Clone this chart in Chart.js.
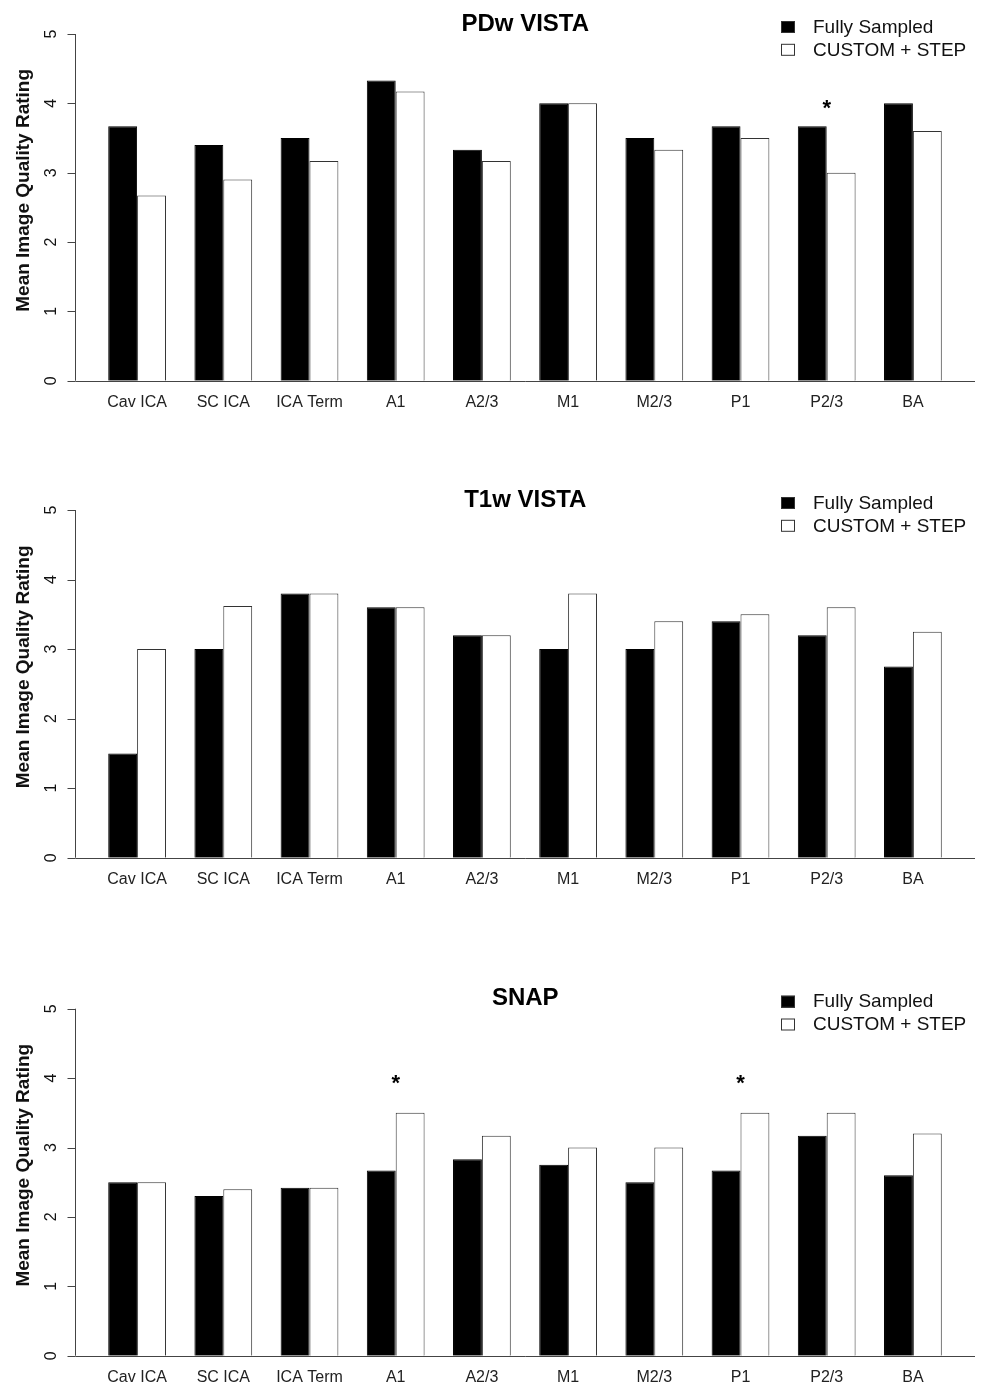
<!DOCTYPE html>
<html>
<head>
<meta charset="utf-8">
<script src="https://cdn.jsdelivr.net/npm/chart.js@4.4.1/dist/chart.umd.min.js"></script>
<style>
  body { margin: 0; background: #fff; }
  #wrap { position: relative; width: 981px; height: 1385px; overflow: hidden; }
  .panel { position: absolute; left: 0; width: 981px; height: 440px; }
</style>
</head>
<body>
<div id="wrap">
  <div class="panel" style="top:0px"><canvas id="c0"></canvas></div>
  <div class="panel" style="top:462px"><canvas id="c1"></canvas></div>
  <div class="panel" style="top:945px"><canvas id="c2"></canvas></div>
</div>
<script>
let categories = ["Cav ICA", "SC ICA", "ICA Term", "A1", "A2/3", "M1", "M2/3", "P1", "P2/3", "BA"];
let seriesNames = ["Fully Sampled", "CUSTOM + STEP"];
let titles = ["PDw VISTA", "T1w VISTA", "SNAP"];
let yTicks = [0, 1, 2, 3, 4, 5];

let pdwFully   = [3.67, 3.40, 3.50, 4.33, 3.33, 4.00, 3.50, 3.67, 3.67, 4.00];
let pdwCustom  = [2.67, 2.90, 3.17, 4.17, 3.17, 4.00, 3.33, 3.50, 3.00, 3.60];
let t1Fully    = [1.50, 3.00, 3.80, 3.60, 3.20, 3.00, 3.00, 3.40, 3.20, 2.75];
let t1Custom   = [3.00, 3.62, 3.80, 3.60, 3.20, 3.80, 3.40, 3.50, 3.60, 3.25];
let snapFully  = [2.50, 2.30, 2.42, 2.67, 2.83, 2.75, 2.50, 2.67, 3.17, 2.60];
let snapCustom = [2.50, 2.40, 2.42, 3.50, 3.17, 3.00, 3.00, 3.50, 3.50, 3.20];

// significance stars: [category index, height]
let pdwStars = [[8, 4.0]];
let t1Stars = [];
let snapStars = [[3, 4.0], [7, 4.0]];

const FONT = "'Liberation Sans', Arial, Helvetica, sans-serif";

// R-style axes, title, legend and stars
const rPlot = {
  id: "rPlot",
  afterDatasetsDraw(chart, args, opts) {
    const ctx = chart.ctx, a = chart.chartArea;
    const x = chart.scales.x, y = chart.scales.y;
    const axX = Math.round(a.left - 19) + 0.5;
    ctx.save();
    ctx.strokeStyle = "#444";
    ctx.lineWidth = 1;
    ctx.beginPath();
    ctx.moveTo(axX, y.getPixelForValue(yTicks[0]));
    ctx.lineTo(axX, y.getPixelForValue(yTicks[yTicks.length - 1]));
    yTicks.forEach(v => {
      let py = Math.round(y.getPixelForValue(v)) + 0.5;
      ctx.moveTo(axX - 8, py);
      ctx.lineTo(axX, py);
    });
    let by = Math.round(y.getPixelForValue(0)) + 0.5;
    ctx.moveTo(axX, by);
    ctx.lineTo(a.right + 19, by);
    ctx.stroke();

    ctx.fillStyle = "#111";
    ctx.textAlign = "center";
    ctx.textBaseline = "middle";
    ctx.font = "16px " + FONT;
    yTicks.forEach(v => {
      ctx.save();
      ctx.translate(axX - 24, y.getPixelForValue(v));
      ctx.rotate(-Math.PI / 2);
      ctx.fillText(String(v), 0, 0);
      ctx.restore();
    });

    ctx.font = "bold 19px " + FONT;
    ctx.save();
    ctx.translate(axX - 52, (a.top + a.bottom) / 2 - 17);
    ctx.rotate(-Math.PI / 2);
    ctx.fillText("Mean Image Quality Rating", 0, 0);
    ctx.restore();

    ctx.fillStyle = "#000";
    ctx.font = "bold 24px " + FONT;
    ctx.fillText(opts.title, (axX + a.right + 19) / 2, a.top - 10);

    // legend
    ctx.textAlign = "left";
    ctx.font = "19px " + FONT;
    chart.data.datasets.forEach((ds, i) => {
      let cy = a.top - 7.5 + i * 22.8;
      ctx.fillStyle = ds.backgroundColor;
      ctx.fillRect(a.right - 175, cy - 5.5, 14, 12);
      ctx.strokeStyle = "#333";
      ctx.strokeRect(a.right - 174.5, cy - 5, 13, 11);
      ctx.fillStyle = "#111";
      ctx.fillText(ds.label, a.right - 143, cy + 1);
    });

    // stars
    ctx.textAlign = "center";
    ctx.textBaseline = "alphabetic";
    ctx.font = "bold 22px " + FONT;
    ctx.fillStyle = "#000";
    opts.stars.forEach(s => {
      ctx.fillText("*", x.getPixelForValue(s[0]), y.getPixelForValue(s[1]) + 12);
    });
    ctx.restore();
  }
};

function makeChart(id, title, fully, custom, stars, padTop, padBottom) {
  return new Chart(document.getElementById(id), {
    type: "bar",
    data: {
      labels: categories,
      datasets: [
        { label: seriesNames[0], data: fully, backgroundColor: "#000", borderColor: "#000", borderWidth: 1 },
        { label: seriesNames[1], data: custom, backgroundColor: "#fff", borderColor: "#333", borderWidth: 1 }
      ]
    },
    options: {
      responsive: true,
      maintainAspectRatio: false,
      animation: false,
      layout: { padding: { top: padTop, left: 94, right: 25, bottom: padBottom } },
      datasets: { bar: { categoryPercentage: 0.67, barPercentage: 1.0 } },
      scales: {
        x: {
          grid: { display: false, drawTicks: false },
          border: { display: false },
          afterFit: s => { s.height = 29; },
          ticks: { color: "#222", font: { family: FONT, size: 16 }, padding: 12, maxRotation: 0, autoSkip: false }
        },
        y: { display: false, min: 0, max: 5 }
      },
      plugins: {
        legend: { display: false },
        tooltip: { enabled: false },
        rPlot: { title: title, stars: stars }
      }
    },
    plugins: [rPlot]
  });
}

makeChart("c0", titles[0], pdwFully, pdwCustom, pdwStars, 34, 30.3);
makeChart("c1", titles[1], t1Fully, t1Custom, t1Stars, 48, 15.3);
makeChart("c2", titles[2], snapFully, snapCustom, snapStars, 63.7, 0.3);
</script>
</body>
</html>
